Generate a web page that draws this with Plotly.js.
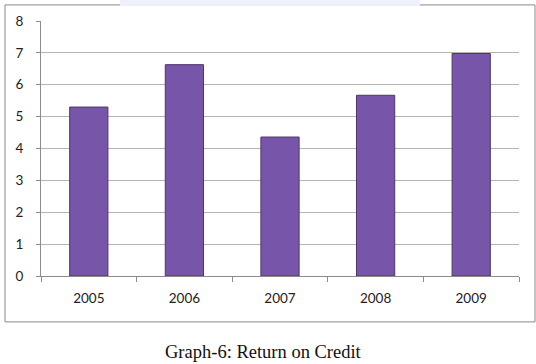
<!DOCTYPE html>
<html>
<head>
<meta charset="utf-8">
<script src="https://cdn.plot.ly/plotly-3.0.1.min.js"></script>
<style>html,body{margin:0;padding:0;background:#fff;}#chart{width:536px;height:364px;}</style>
</head>
<body>
<div id="chart"></div>
<script>
const years = ["2005", "2006", "2007", "2008", "2009"];
const returnOnCredit = [5.3, 6.63, 4.36, 5.67, 6.98];
const yTicks = [0, 1, 2, 3, 4, 5, 6, 7, 8];
const chartTitle = "Graph-6: Return on Credit";

const trace = {
  type: "bar",
  x: years,
  y: returnOnCredit,
  marker: {color: "#7755a8", line: {color: "#4d356e", width: 1}},
  hoverinfo: "skip"
};

const layout = {
  width: 536, height: 364,
  margin: {l: 41, r: 17, t: 21, b: 88},
  paper_bgcolor: "#ffffff",
  plot_bgcolor: "#ffffff",
  bargap: 0.6,
  showlegend: false,
  font: {family: "Lato, 'Open Sans', sans-serif", size: 13, color: "#222"},
  xaxis: {
    type: "category",
    showgrid: false,
    showline: true, linecolor: "#8c8c8c", linewidth: 1,
    ticks: "outside", tickson: "boundaries", ticklen: 5, tickcolor: "#8c8c8c",
    ticklabelstandoff: 10,
    tickfont: {family: "Lato, sans-serif", size: 13.5, color: "#222"},
    zeroline: false
  },
  yaxis: {
    range: [0, 8],
    tickvals: yTicks,
    showgrid: true, gridcolor: "#b4b4b4", gridwidth: 1,
    showline: true, linecolor: "#8c8c8c", linewidth: 1,
    ticks: "outside", ticklen: 4, tickcolor: "#8c8c8c",
    ticklabelstandoff: 10,
    tickfont: {family: "Lato, sans-serif", size: 13.5, color: "#222"},
    zeroline: false
  },
  shapes: [
    {type: "rect", xref: "paper", yref: "paper",
     x0: -0.0753, x1: 1.0335, y0: -0.180, y1: 1.063,
     line: {color: "#8a8a8a", width: 1}, fillcolor: "rgba(0,0,0,0)", layer: "below"},
    {type: "rect", xref: "paper", yref: "paper",
     x0: (120-41)/478, x1: (420-41)/478, y0: (276-6)/255, y1: (276-0)/255,
     line: {width: 0}, fillcolor: "#eef1fb", layer: "below"}
  ],
  annotations: [
    {text: chartTitle, xref: "paper", yref: "paper",
     x: (263.5-41)/478, y: (276-352)/255, xanchor: "center", yanchor: "middle",
     showarrow: false,
     font: {family: "'Liberation Serif', 'DejaVu Serif', serif", size: 18.5, color: "#111"}}
  ]
};

Plotly.newPlot("chart", [trace], layout, {displayModeBar: false, staticPlot: true});
</script>
</body>
</html>
